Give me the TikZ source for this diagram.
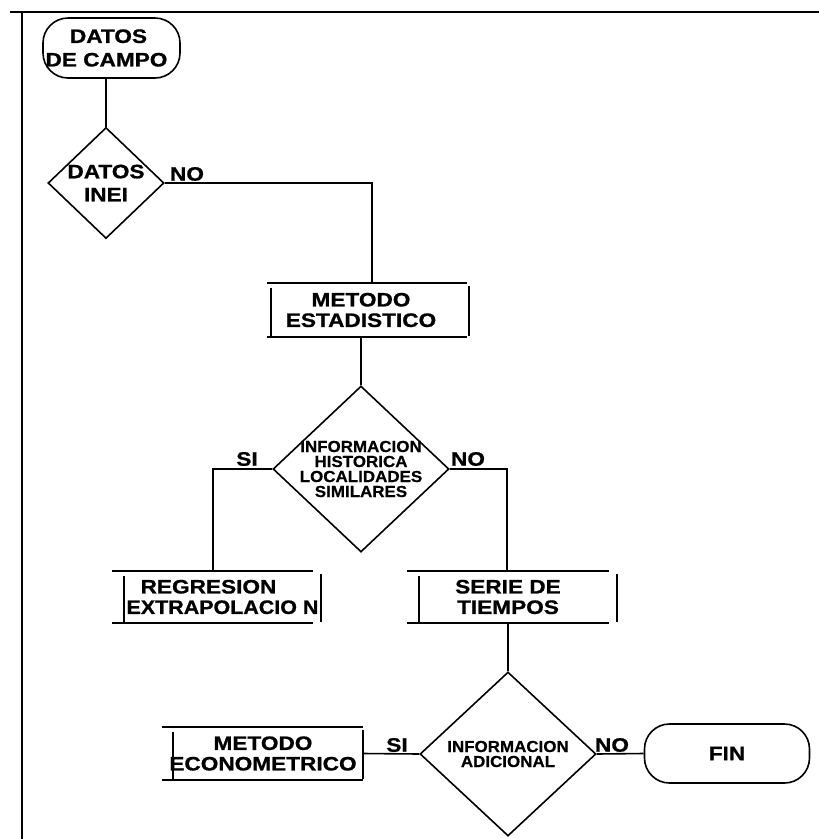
\documentclass[tikz,border=0pt]{standalone}
\usepackage{fontspec}
\setmainfont{Liberation Sans}
\newfontfamily\bigf{Liberation Sans Bold}[FakeBold=0.8]
\newfontfamily\smallf{Liberation Sans Bold}[FakeBold=0.5]
\usetikzlibrary{shapes.geometric}
\newcommand\stx[1]{\scalebox{1.16}[1]{#1}}
\newcommand\sty[1]{\scalebox{1.06}[1]{#1}}
\newcommand\procdeco[3]{%
  \draw ([xshift=-#2]#1.north west) -- ([xshift=-#3]#1.north east);
  \draw ([xshift=-#2]#1.south west) -- ([xshift=-#3]#1.south east);
  \draw ([yshift=-5pt]#1.north west) -- (#1.south west);
  \draw ([yshift=-3pt]#1.north east) -- ([yshift=1pt]#1.south east);}
\begin{document}
\begin{tikzpicture}[x=1pt,y=-1pt,line width=1.6pt,
  bigtxt/.style={font=\bigf\fontsize{19.5}{20.5}\selectfont},
  smalltxt/.style={font=\smallf\fontsize{16}{15}\selectfont},
  term/.style={draw,bigtxt,rounded corners=25pt,inner sep=0pt,align=center},
  proc/.style={bigtxt,inner sep=0pt,align=center},
  decide/.style={draw,diamond,inner sep=-30pt,align=center},
  lab/.style={bigtxt,inner sep=0pt}]
\useasboundingbox (0,0) rectangle (819,839);
% frame
\draw[line width=2pt] (10,12) coordinate (ftl) -- (819,12) coordinate (ftr);
\draw[line width=2pt] (22,12) coordinate (flt) -- (22,839) coordinate (flb);
% nodes
\node[term,minimum width=137pt,minimum height=60pt,font=\bigf\fontsize{19.5}{23.5}\selectfont] (campo) at (111.5,48) {\hspace*{-6pt}\stx{DATOS}\\\hspace*{-10pt}\stx{DE CAMPO}};
\node[decide,bigtxt,font=\bigf\fontsize{19.5}{23}\selectfont,minimum width=116pt,minimum height=111pt] (inei) at (106,183) {\stx{DATOS}\\\stx{INEI}};
\node[lab] (no1) at (187,174) {\stx{NO}};
\node[proc,minimum width=196pt,minimum height=52pt] (metest) at (370,310) {\hspace*{-18pt}\stx{METODO}\\\hspace*{-18pt}\stx{ESTADISTICO}};
\node[decide,smalltxt,minimum width=176pt,minimum height=166pt] (hist) at (361,469) {\sty{INFORMACION}\\\sty{HISTORICA}\\\sty{LOCALIDADES}\\\sty{SIMILARES}};
\node[lab] (si1) at (247,459) {\stx{SI}};
\node[lab] (no2) at (468,459) {\stx{NO}};
\node[proc,minimum width=195pt,minimum height=50pt] (reg) at (222.5,597) {\hspace*{-28pt}\stx{REGRESION}\\\scalebox{1.1}[1]{EXTRAPOLACIO N}};
\node[proc,minimum width=196pt,minimum height=50pt] (serie) at (518,597) {\hspace*{-20pt}\stx{SERIE DE}\\\hspace*{-20pt}\stx{TIEMPOS}};
\node[decide,smalltxt,minimum width=176pt,minimum height=164pt] (adic) at (508,754) {\sty{INFORMACION}\\\sty{ADICIONAL}};
\node[lab] (si2) at (397,745) {\stx{SI}};
\node[lab] (no3) at (612,745) {\stx{NO}};
\node[proc,minimum width=188pt,minimum height=51pt] (econ) at (268,753.5) {\hspace*{-10pt}\stx{METODO}\\\hspace*{-10pt}\stx{ECONOMETRICO}};
\node[term,minimum width=165pt,minimum height=59pt] (fin) at (727,753.5) {\stx{FIN}};
% box decorations
\procdeco{metest}{4pt}{2pt}
\procdeco{reg}{12pt}{8pt}
\procdeco{serie}{12pt}{8pt}
\procdeco{econ}{11pt}{0pt}
% connectors
\draw (inei.north) -- (inei.north |- campo.south);
\draw (inei.east) -| ([xshift=2pt]metest.north);
\draw (hist.north) -- (hist.north |- metest.south);
\draw (hist.west) -| ([xshift=-9.5pt]reg.north);
\draw (hist.east) -| ([xshift=-11pt]serie.north);
\draw (adic.north) -- (adic.north |- serie.south);
\draw (adic.west) -- (econ.east);
\draw (adic.east) -- (fin.west);
\end{tikzpicture}
\end{document}
